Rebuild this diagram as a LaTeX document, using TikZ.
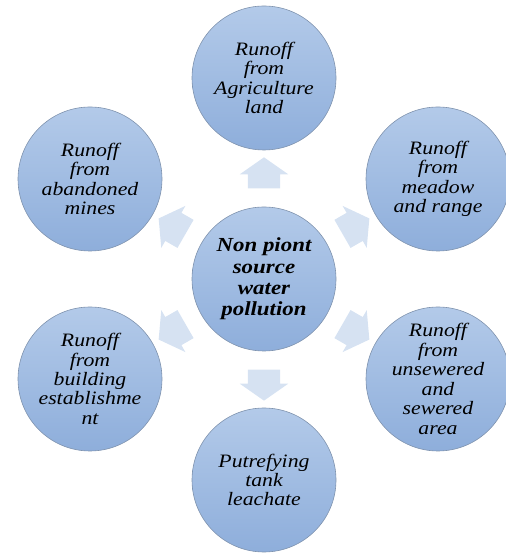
\documentclass[tikz,border=0pt]{standalone}
\usepackage{fontspec}
\setmainfont{Liberation Serif}[FakeStretch=1.15]
\usepackage{tikz}
\usetikzlibrary{shapes.arrows,calc}
\definecolor{bubtop}{HTML}{B3CAE9}
\definecolor{bubbot}{HTML}{8EAEDB}
\definecolor{bubrim}{HTML}{7F93AE}
\definecolor{pale}{HTML}{D6E2F2}

\begin{document}
\begin{tikzpicture}[x=1bp, y=1bp,
  bub/.style={circle, draw=bubrim, line width=0.6bp, top color=bubtop, bottom color=bubbot,
              minimum size=144bp, inner sep=0pt, align=center,
              font=\fontsize{19}{19.5}\selectfont\itshape},
  hub/.style={bub, font=\fontsize{20}{21.5}\selectfont\bfseries\itshape},
  blk/.style={single arrow, fill=pale, draw=none, sloped, allow upside down,
              inner xsep=0pt, inner ysep=16bp, minimum height=31bp,
              single arrow head extend=8bp, single arrow tip angle=110}
]
\useasboundingbox (0,0) rectangle (506,560);
\clip (0,0) rectangle (506,560);

% hub and the six sources around it
\node[hub] (src) at (264,281) {Non piont\\source\\water\\pollution};
\node[bub] (agri) at (264,482) {Runoff\\from\\Agriculture\\land};
\node[bub] (mead) at (438,381) {Runoff\\from\\meadow\\and range};
\node[bub] (sewr) at (438,181) {Runoff\\from\\unsewered\\and\\sewered\\area};
\node[bub] (tank) at (264,80) {Putrefying\\tank\\leachate};
\node[bub] (bldg) at (90,181) {Runoff\\from\\building\\establishme\\nt};
\node[bub] (mine) at (90,381) {Runoff\\from\\abandoned\\mines};

% block arrows pointing outwards
\path (src) -- node[blk]{} (agri);
\path (src) -- node[blk]{} (mead);
\path (src) -- node[blk]{} (sewr);
\path (src) -- node[blk]{} (tank);
\path (src) -- node[blk]{} (bldg);
\path (src) -- node[blk]{} (mine);
\end{tikzpicture}
\end{document}
